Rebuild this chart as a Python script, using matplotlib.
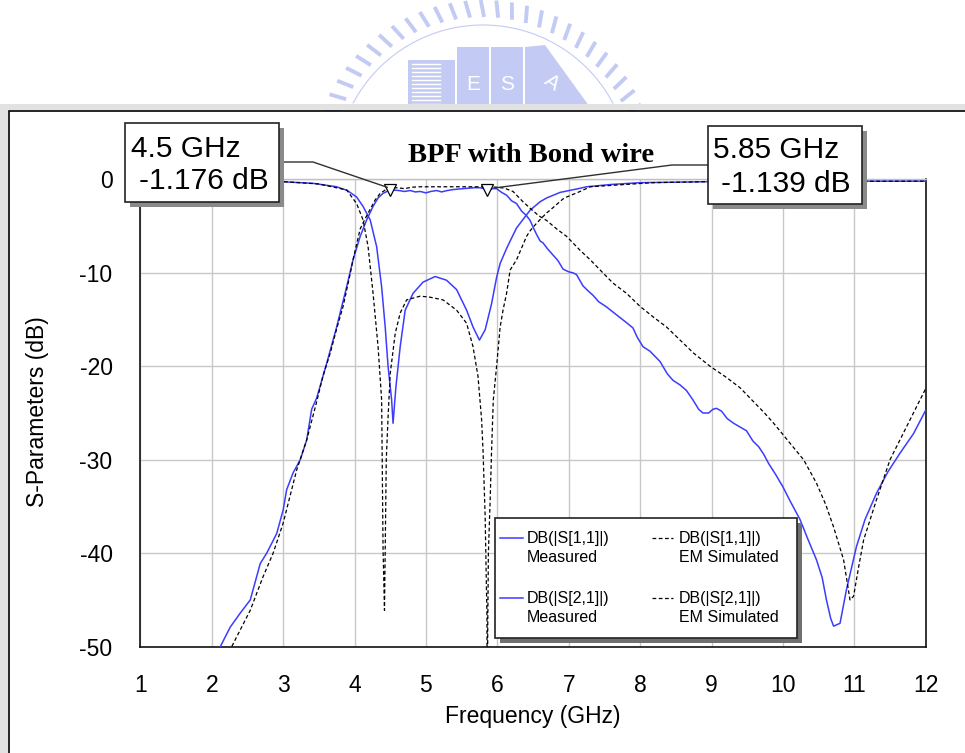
import numpy as np
import matplotlib
matplotlib.use("Agg")
import matplotlib.pyplot as plt
from matplotlib.patches import Rectangle, Polygon
from matplotlib.lines import Line2D

plt.rcParams['font.family'] = ['Liberation Sans', 'DejaVu Sans']

# ---------------- data ----------------
s21_meas_f = [2.00, 2.12, 2.26, 2.40, 2.54, 2.68, 2.77, 2.91, 3.00, 3.05, 3.14, 3.24, 3.33, 3.40, 3.47,
              3.61, 3.75, 3.89, 3.98, 4.08, 4.17, 4.26, 4.33, 4.40, 4.47, 4.54, 4.62, 4.70, 4.78, 4.85,
              4.92, 5.00, 5.07, 5.15, 5.22, 5.30, 5.38, 5.45, 5.52, 5.60, 5.68, 5.75, 5.82, 5.88, 5.94,
              5.99, 6.06, 6.13, 6.20, 6.27, 6.34, 6.41, 6.46, 6.50, 6.55, 6.60, 6.64, 6.70, 6.78, 6.85,
              6.92, 7.00, 7.06, 7.11, 7.20, 7.28, 7.34, 7.42, 7.52, 7.62, 7.72, 7.82, 7.90, 7.96, 8.04,
              8.14, 8.28, 8.38, 8.46, 8.56, 8.65, 8.74, 8.82, 8.88, 8.96, 9.02, 9.07, 9.14, 9.22, 9.31,
              9.40, 9.49, 9.58, 9.66, 9.73, 9.80, 9.90, 10.00, 10.10, 10.24, 10.35, 10.47, 10.55, 10.61,
              10.67, 10.71, 10.80, 10.85, 10.89, 10.96, 11.03, 11.15, 11.31, 11.47, 11.64, 11.83, 12.00]
s21_meas_db = [-53.5, -50.0, -47.9, -46.4, -45.0, -41.1, -40.0, -37.9, -35.4, -33.2, -31.4, -30.0, -27.9, -24.6, -23.4,
               -19.7, -15.8, -11.5, -8.6, -6.1, -4.35, -2.9, -2.0, -1.5, -1.25, -1.15, -1.2, -1.3, -1.2, -1.35,
               -1.3, -1.45, -1.3, -1.2, -1.35, -1.2, -1.1, -1.05, -1.0, -0.95, -0.9, -0.9, -1.0, -1.1, -1.0,
               -1.0, -1.4, -1.7, -2.3, -2.6, -3.4, -3.9, -4.4, -5.1, -5.9, -6.6, -6.8, -7.4, -8.1, -8.7,
               -9.6, -9.9, -10.0, -10.2, -11.4, -12.0, -12.4, -13.1, -13.6, -14.2, -14.8, -15.4, -15.9, -16.9, -17.9,
               -18.4, -19.5, -20.8, -21.5, -22.0, -22.6, -23.6, -24.6, -25.0, -25.0, -24.6, -24.5, -24.8, -25.6, -26.1,
               -26.5, -26.9, -28.0, -28.6, -29.4, -30.4, -31.6, -32.9, -34.4, -36.4, -38.5, -40.7, -42.6, -45.0,
               -47.0, -47.8, -47.5, -45.5, -43.9, -41.6, -39.3, -36.4, -33.6, -31.3, -29.3, -27.2, -24.7]

s21_sim_f = [2.10, 2.28, 2.40, 2.54, 2.72, 2.86, 3.00, 3.10, 3.19, 3.33, 3.47, 3.56, 3.66, 3.75, 3.84,
             3.92, 3.98, 4.04, 4.08, 4.15, 4.22, 4.29, 4.36, 4.43, 4.50, 4.60, 4.70, 4.80, 4.90, 5.00,
             5.20, 5.40, 5.60, 5.80, 6.00, 6.10, 6.22, 6.36, 6.46, 6.58, 6.69, 6.83, 6.97, 7.16, 7.30,
             7.44, 7.62, 7.81, 8.00, 8.18, 8.37, 8.56, 8.75, 8.98, 9.21, 9.40, 9.59, 9.73, 9.86, 10.00,
             10.15, 10.29, 10.47, 10.60, 10.71, 10.85, 10.94, 10.99, 11.06, 11.13, 11.31, 11.50, 11.73, 11.92, 12.00]
s21_sim_db = [-53.0, -50.0, -48.2, -46.1, -42.5, -40.0, -36.8, -33.8, -31.1, -27.9, -23.8, -21.0, -18.6, -16.0, -13.6,
              -10.8, -8.6, -6.6, -5.3, -4.2, -3.2, -2.2, -1.5, -1.15, -0.96, -0.9, -1.0, -0.85, -0.8, -0.8,
              -0.8, -0.8, -0.8, -0.8, -0.85, -0.95, -1.3, -2.4, -3.1, -3.9, -4.4, -5.3, -6.1, -7.6, -8.6,
              -9.7, -11.1, -12.2, -13.6, -14.7, -15.8, -17.2, -18.6, -20.0, -21.2, -22.3, -23.8, -24.9, -26.0, -27.3,
              -28.7, -30.0, -32.5, -34.8, -37.2, -40.7, -45.0, -44.6, -41.5, -38.6, -34.3, -30.0, -26.5, -23.6, -22.4]

s11_meas_f = [1.00, 2.00, 2.96, 3.42, 3.75, 3.90, 4.03, 4.12, 4.22, 4.31, 4.38, 4.43, 4.47, 4.52, 4.54,
              4.58, 4.64, 4.71, 4.82, 4.96, 5.13, 5.29, 5.43, 5.57, 5.66, 5.75, 5.83, 5.92, 5.99, 6.04,
              6.13, 6.18, 6.27, 6.36, 6.46, 6.60, 6.69, 6.88, 7.16, 7.25, 7.60, 8.00, 9.00, 10.00, 12.00]
s11_meas_db = [-0.15, -0.2, -0.25, -0.43, -0.8, -1.2, -1.9, -2.9, -4.35, -7.2, -11.5, -15.8, -20.0, -23.6, -26.1,
               -22.2, -17.9, -14.0, -12.2, -11.0, -10.4, -10.8, -11.8, -14.0, -15.8, -17.2, -16.1, -13.3, -10.5, -9.0,
               -7.4, -6.6, -5.2, -4.3, -3.3, -2.4, -2.0, -1.4, -0.96, -0.8, -0.55, -0.36, -0.25, -0.2, -0.2]

s11_sim_f = [1.00, 2.00, 3.00, 3.50, 3.89, 4.03, 4.12, 4.19, 4.26, 4.33, 4.38, 4.40, 4.42, 4.43, 4.445,
             4.47, 4.50, 4.57, 4.64, 4.73, 4.92, 5.05, 5.24, 5.43, 5.57, 5.66, 5.73, 5.78, 5.80, 5.83,
             5.855, 5.86, 5.866, 5.875, 5.90, 5.92, 5.944, 5.99, 6.04, 6.08, 6.13, 6.18, 6.27, 6.41, 6.46,
             6.55, 6.69, 6.74, 6.92, 6.97, 7.16, 7.30, 8.18, 9.00, 12.00]
s11_sim_db = [-0.1, -0.15, -0.25, -0.5, -1.14, -2.6, -4.35, -7.2, -12.2, -17.9, -23.6, -39.6, -46.1, -39.6, -30.0,
              -25.5, -20.8, -16.5, -14.3, -12.9, -12.5, -12.6, -12.9, -14.0, -15.4, -17.9, -21.1, -25.7, -29.0, -36.1,
              -46.8, -60.0, -48.0, -40.0, -34.3, -29.0, -23.6, -20.0, -15.8, -14.0, -12.2, -9.7, -8.6, -6.1, -5.5,
              -4.7, -3.6, -3.3, -2.1, -1.9, -1.3, -0.8, -0.36, -0.25, -0.2]

marker_f = [4.5, 5.85]
marker_db = [-1.176, -1.139]
marker_labels = [("4.5 GHz", "-1.176 dB"), ("5.85 GHz", "-1.139 dB")]

xticks = list(range(1, 13))
yticks = [0, -10, -20, -30, -40, -50]

legend_labels = [("DB(|S[1,1]|)", "Measured"), ("DB(|S[2,1]|)", "Measured"),
                 ("DB(|S[1,1]|)", "EM Simulated"), ("DB(|S[2,1]|)", "EM Simulated")]

# ---------------- figure ----------------
W, H = 965, 753
fig = plt.figure(figsize=(W / 100, H / 100), dpi=100)
fig.patch.set_facecolor('white')


def fx(x):
    return x / W


def fy(y):
    return 1 - y / H


def rect_px(x0, y0, x1, y1, **kw):
    r = Rectangle((fx(x0), fy(y1)), (x1 - x0) / W, (y1 - y0) / H, transform=fig.transFigure, **kw)
    fig.add_artist(r)
    return r


# watermark logo (faint)
logo_c = '#c3cbf4'
cx, cy = 483, 172
for ang in np.arange(22, 160, 5.2):
    a = np.deg2rad(ang)
    r1, r2 = 155, 172
    xs = [cx + r1 * np.cos(a), cx + r2 * np.cos(a + 0.02)]
    ys = [cy - r1 * np.sin(a), cy - r2 * np.sin(a + 0.02)]
    fig.add_artist(Line2D([fx(v) for v in xs], [fy(v) for v in ys], transform=fig.transFigure,
                          color=logo_c, lw=2.8, solid_capstyle='butt', zorder=0.5))
th = np.deg2rad(np.linspace(28, 152, 100))
fig.add_artist(Line2D([fx(cx + 147 * np.cos(t)) for t in th], [fy(cy - 147 * np.sin(t)) for t in th],
                      transform=fig.transFigure, color=logo_c, lw=0.8, zorder=0.5))
rect_px(408, 60, 455, 110, facecolor=logo_c, edgecolor='none', zorder=0.5)
for yy in range(64, 108, 4):
    fig.add_artist(Line2D([fx(412), fx(440)], [fy(yy), fy(yy)], transform=fig.transFigure,
                          color='white', lw=1.0, zorder=0.6))
rect_px(457, 47, 489, 110, facecolor=logo_c, edgecolor='none', zorder=0.5)
rect_px(491, 47, 523, 110, facecolor=logo_c, edgecolor='none', zorder=0.5)
fig.add_artist(Polygon([(fx(525), fy(47)), (fx(545), fy(45)), (fx(592), fy(110)), (fx(525), fy(110))],
                       closed=True, transform=fig.transFigure, facecolor=logo_c, edgecolor='none', zorder=0.5))
fig.text(fx(473), fy(84), "E", color='white', fontsize=15, ha='center', va='center', zorder=0.7)
fig.text(fx(507), fy(84), "S", color='white', fontsize=15, ha='center', va='center', zorder=0.7)
fig.text(fx(552), fy(82), "A", color='white', fontsize=15, ha='center', va='center', rotation=-35, zorder=0.7)

# outer panel frame
rect_px(0, 104, W, 110, facecolor='#e2e2e2', edgecolor='none', zorder=0.8)
rect_px(0, 104, 8, H, facecolor='#e2e2e2', edgecolor='none', zorder=0.8)
rect_px(9, 110.5, W + 5, H + 5, facecolor='white', edgecolor='black', lw=1.2, zorder=0.9)

# axes
ax_l, ax_r, ax_t, ax_b = 140.3, 925.7, 179.3, 646.7
ax = fig.add_axes([fx(ax_l), fy(ax_b), (ax_r - ax_l) / W, (ax_b - ax_t) / H], zorder=2)
ax.set_facecolor('none')
ax.set_xlim(1, 12)
ax.set_ylim(-50, 0)
ax.set_xticks(xticks)
ax.set_yticks(yticks)
ax.set_xticklabels([str(v) for v in xticks])
ax.set_yticklabels([str(v) for v in yticks])
ax.tick_params(length=0, labelsize=16.5, pad=20)
ax.grid(True, color='#c8c8c8', lw=1)
ax.set_axisbelow(True)
for s in ['left', 'bottom', 'right']:
    ax.spines[s].set_color('#111111')
    ax.spines[s].set_linewidth(1.2)
ax.spines['top'].set_color('#c0c0c0')
ax.spines['top'].set_linewidth(1)

blue = '#3c3cff'
dash = (0, (3, 2))
ax.plot(s11_meas_f, s11_meas_db, color=blue, lw=1.1, zorder=3)
ax.plot(s21_meas_f, s21_meas_db, color=blue, lw=1.1, zorder=3)
ax.plot(s11_sim_f, s11_sim_db, color='black', lw=0.9, ls=dash, zorder=3)
ax.plot(s21_sim_f, s21_sim_db, color='black', lw=0.9, ls=dash, zorder=3)
ax.plot(marker_f, marker_db, ls='none', marker='v', markersize=8, markerfacecolor='white',
        markeredgecolor='black', markeredgewidth=0.9, zorder=4)

fig.text(fx(38), fy(412), "S-Parameters (dB)", rotation=90, fontsize=16.5, ha='center', va='center')
fig.text(fx(533), fy(716), "Frequency (GHz)", fontsize=16.5, ha='center', va='center')

# title
fig.text(fx(531), fy(155), "BPF with Bond wire", fontsize=20.5, family='Liberation Serif',
         fontweight='bold', ha='center', va='center', zorder=5)

# leader lines
fig.canvas.draw()
inv = fig.transFigure.inverted()
p1 = inv.transform(ax.transData.transform((marker_f[0], marker_db[0])))
p2 = inv.transform(ax.transData.transform((marker_f[1], marker_db[1])))
lead_c = '#303030'
fig.add_artist(Line2D([fx(279), fx(313), p1[0] - 3 / W], [fy(162), fy(162), p1[1] + 3 / H],
                      transform=fig.transFigure, color=lead_c, lw=1, zorder=5))
fig.add_artist(Line2D([p2[0] + 8 / W, fx(672), fx(708)], [p2[1] + 2 / H, fy(165), fy(165)],
                      transform=fig.transFigure, color=lead_c, lw=1, zorder=5))

# marker boxes
boxes = [(125, 123, 279, 202), (708, 126, 862, 204)]
text_pos = [((131, 157), (139, 189)), ((713, 158), (721, 192))]
for (x0, y0, x1, y1), (l1, l2), (t1, t2) in zip(boxes, marker_labels, text_pos):
    rect_px(x0 + 5, y0 + 5, x1 + 5, y1 + 5, facecolor='#8a8a8a', edgecolor='none', zorder=6)
    rect_px(x0, y0, x1, y1, facecolor='white', edgecolor='#222222', lw=1.2, zorder=6.1)
    fig.text(fx(t1[0]), fy(t1[1]), l1, fontsize=21.5, ha='left', va='baseline', zorder=6.2)
    fig.text(fx(t2[0]), fy(t2[1]), l2, fontsize=21.5, ha='left', va='baseline', zorder=6.2)

# legend (manual layout)
lx0, ly0, lx1, ly1 = 495, 518, 797, 638
rect_px(lx0 + 5, ly0 + 5, lx1 + 5, ly1 + 5, facecolor='#707070', edgecolor='none', zorder=6)
rect_px(lx0, ly0, lx1, ly1, facecolor='white', edgecolor='#222222', lw=1.2, zorder=6.1)
styles = [dict(color=blue, lw=1.1), dict(color=blue, lw=1.1),
          dict(color='black', lw=0.9, ls=dash), dict(color='black', lw=0.9, ls=dash)]
cols = [(500, 523, 527), (500, 523, 527), (652, 673, 679), (652, 673, 679)]
rows = [538, 598, 538, 598]
for (a, b), st, (hx0, hx1, tx), ry in zip(legend_labels, styles, cols, rows):
    fig.add_artist(Line2D([fx(hx0), fx(hx1)], [fy(ry), fy(ry)], transform=fig.transFigure, zorder=6.2, **st))
    fig.text(fx(tx), fy(ry), a, fontsize=11.5, ha='left', va='center', zorder=6.2)
    fig.text(fx(tx), fy(ry + 20), b, fontsize=11.5, ha='left', va='center', zorder=6.2)

fig.savefig("out.png", dpi=100)
